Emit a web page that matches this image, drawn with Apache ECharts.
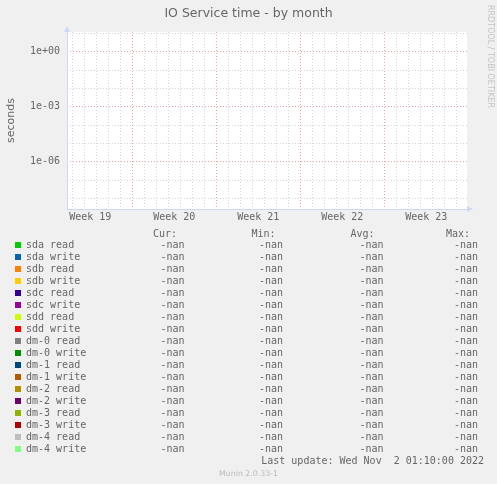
<!DOCTYPE html>
<html>
<head>
<meta charset="utf-8">
<title>IO Service time - by month</title>
<script src="https://cdn.jsdelivr.net/npm/echarts@6/dist/echarts.min.js"></script>
<style>
html, body { margin: 0; padding: 0; background: #f0f0f0; }
#chart { width: 497px; height: 484px; }
</style>
</head>
<body>
<div id="chart"></div>
<script>
/** munin diskstats: IO service time, month view */
var seriesNames = [
    'sda read', 'sda write', 'sdb read', 'sdb write', 'sdc read', 'sdc write',
    'sdd read', 'sdd write', 'dm-0 read', 'dm-0 write', 'dm-1 read', 'dm-1 write',
    'dm-2 read', 'dm-2 write', 'dm-3 read', 'dm-3 write', 'dm-4 read', 'dm-4 write'
];
var seriesColors = [
    '#00cc00', '#0066b3', '#ff8000', '#ffcc00', '#330099', '#990099',
    '#ccff00', '#ff0000', '#808080', '#008f00', '#00487d', '#b35a00',
    '#b38f00', '#6b006b', '#8fb300', '#b30000', '#bebebe', '#80ff80'
];
// no samples were stored, every stat is nan
var curValues = [NaN, NaN, NaN, NaN, NaN, NaN, NaN, NaN, NaN, NaN, NaN, NaN, NaN, NaN, NaN, NaN, NaN, NaN];
var minValues = [NaN, NaN, NaN, NaN, NaN, NaN, NaN, NaN, NaN, NaN, NaN, NaN, NaN, NaN, NaN, NaN, NaN, NaN];
var avgValues = [NaN, NaN, NaN, NaN, NaN, NaN, NaN, NaN, NaN, NaN, NaN, NaN, NaN, NaN, NaN, NaN, NaN, NaN];
var maxValues = [NaN, NaN, NaN, NaN, NaN, NaN, NaN, NaN, NaN, NaN, NaN, NaN, NaN, NaN, NaN, NaN, NaN, NaN];

// x = days since Mon 16 May 2022 (start of week 20)
var weekLabels = ['Week 19', 'Week 20', 'Week 21', 'Week 22', 'Week 23'];
var weekCenters = [-3.5, 3.5, 10.5, 17.5, 24.5];
var xMin = -5.44, xMax = 27.89;

// y = log10(seconds)
var yLabelExps = [-6, -3, 0];
var yMin = -8.58, yMax = 1.07;

var lastUpdate = 'Last update: Wed Nov  2 01:10:00 2022';

var FONT = '#666666';
var GRID_MINOR = '#d6d6d6';
var GRID_MAJOR = '#f2a4a4';
var MONO = 'DejaVu Sans Mono';

// grid lines: one per day / one per decade
var dayTicks = [], dayColors = [];
for (var d = Math.ceil(xMin); d <= Math.floor(xMax); d++) {
    dayTicks.push(d);
    dayColors.push(((d % 7) + 7) % 7 === 0 ? GRID_MAJOR : GRID_MINOR);
}
var decadeTicks = [], decadeColors = [];
for (var e = Math.ceil(yMin); e <= Math.floor(yMax); e++) {
    decadeTicks.push(e);
    decadeColors.push(e % 3 === 0 ? GRID_MAJOR : GRID_MINOR);
}

function fmtStat(v) {
    return isNaN(v) ? '-nan' : v.toFixed(2);
}
function fmtExp(v) {
    var n = Math.abs(v);
    return '1e' + (v < 0 ? '-' : '+') + (n < 10 ? '0' + n : n);
}

var colText = { fontFamily: MONO, fontSize: 10, color: FONT, lineHeight: 12 };
function rich(extra) {
    return Object.assign({}, colText, extra);
}

var chart = echarts.init(document.getElementById('chart'));
chart.setOption({
    backgroundColor: '#f0f0f0',
    animation: false,
    color: seriesColors,
    title: {
        text: 'IO Service time - by month',
        left: 'center',
        top: 6,
        padding: 0,
        textStyle: { fontFamily: 'DejaVu Sans', fontSize: 12.5, fontWeight: 'normal', color: FONT, lineHeight: 16 }
    },
    grid: {
        left: 67, right: 30, top: 32, bottom: 275,
        show: true, backgroundColor: '#ffffff', borderWidth: 0,
        outerBoundsMode: 'none'
    },
    xAxis: {
        type: 'value',
        min: xMin,
        max: xMax,
        axisLine: {
            onZero: false,
            lineStyle: { color: '#cfd6f8' },
            symbol: ['none', 'triangle'],
            symbolSize: [6, 6],
            symbolOffset: [0, 3]
        },
        axisTick: { show: false, customValues: dayTicks },
        axisLabel: {
            customValues: weekCenters,
            formatter: function (v) { return weekLabels[weekCenters.indexOf(v)]; },
            color: FONT, fontFamily: MONO, fontSize: 10, margin: 3
        },
        splitLine: { show: true, lineStyle: { color: dayColors, type: [1, 2], width: 1 } }
    },
    yAxis: {
        type: 'value',
        min: yMin,
        max: yMax,
        name: 'seconds',
        nameLocation: 'middle',
        nameGap: 50,
        nameTextStyle: { fontFamily: 'DejaVu Sans', fontSize: 11, color: FONT },
        axisLine: {
            show: true,
            onZero: false,
            lineStyle: { color: '#cfd6f8' },
            symbol: ['none', 'triangle'],
            symbolSize: [6, 6],
            symbolOffset: [0, 3]
        },
        axisTick: { show: false, customValues: decadeTicks },
        axisLabel: {
            customValues: yLabelExps,
            formatter: fmtExp,
            color: FONT, fontFamily: MONO, fontSize: 10, margin: 7
        },
        splitLine: { show: true, lineStyle: { color: decadeColors, type: [1, 2], width: 1 } }
    },
    legend: {
        orient: 'vertical',
        left: 15,
        top: 239,
        padding: 0,
        itemGap: 0,
        itemWidth: 6,
        itemHeight: 6,
        icon: 'rect',
        selectedMode: false,
        itemStyle: { borderWidth: 0 },
        data: seriesNames,
        formatter: function (name) {
            var i = seriesNames.indexOf(name);
            return '{n|' + name + '}{c|' + fmtStat(curValues[i]) + '}{m|' + fmtStat(minValues[i]) +
                '}{a|' + fmtStat(avgValues[i]) + '}{x|' + fmtStat(maxValues[i]) + '}';
        },
        textStyle: {
            fontFamily: MONO, fontSize: 10, color: FONT, lineHeight: 12,
            rich: {
                n: rich({ width: 130 }),
                c: rich({ width: 28.5, align: 'right' }),
                m: rich({ width: 98.5, align: 'right' }),
                a: rich({ width: 100.5, align: 'right' }),
                x: rich({ width: 94.5, align: 'right' })
            }
        }
    },
    graphic: [
        { type: 'text', x: 177, y: 234, style: { text: 'Cur:', font: '10px "DejaVu Sans Mono"', fill: FONT, align: 'right', verticalAlign: 'middle' } },
        { type: 'text', x: 275.5, y: 234, style: { text: 'Min:', font: '10px "DejaVu Sans Mono"', fill: FONT, align: 'right', verticalAlign: 'middle' } },
        { type: 'text', x: 374.5, y: 234, style: { text: 'Avg:', font: '10px "DejaVu Sans Mono"', fill: FONT, align: 'right', verticalAlign: 'middle' } },
        { type: 'text', x: 470, y: 234, style: { text: 'Max:', font: '10px "DejaVu Sans Mono"', fill: FONT, align: 'right', verticalAlign: 'middle' } },
        { type: 'text', x: 484, y: 461.5, style: { text: lastUpdate, font: '10px "DejaVu Sans Mono"', fill: FONT, align: 'right', verticalAlign: 'middle' } },
        { type: 'text', x: 248.5, y: 473.5, style: { text: 'Munin 2.0.33-1', font: '7.8px "DejaVu Sans"', fill: '#bbbbbb', align: 'center', verticalAlign: 'middle' } },
        { type: 'text', x: 490, y: 56.5, rotation: -Math.PI / 2, style: { text: 'RRDTOOL / TOBI OETIKER', font: '8px "DejaVu Sans"', fill: '#c4c4c4', align: 'center', verticalAlign: 'middle' } }
    ],
    series: seriesNames.map(function (name, i) {
        return { name: name, type: 'line', symbol: 'none', data: [], lineStyle: { color: seriesColors[i] }, itemStyle: { color: seriesColors[i] } };
    })
});
</script>
</body>
</html>
